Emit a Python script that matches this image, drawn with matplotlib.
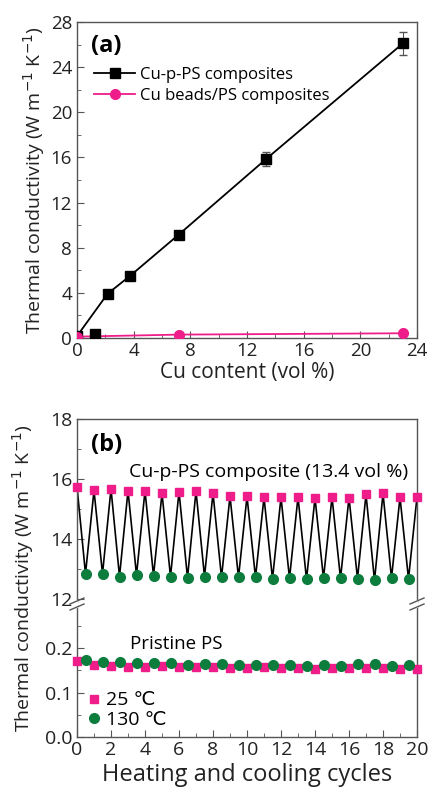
import numpy as np
import matplotlib
matplotlib.use("Agg")
import matplotlib.pyplot as plt
from matplotlib.ticker import MultipleLocator, FormatStrFormatter

plt.rcParams["font.family"] = ["Open Sans", "DejaVu Sans"]

PINK = "#EE1D8A"
GREEN = "#0C7D3C"
FRAME = "#555555"

# (a) thermal conductivity vs Cu content
cup_x = [0, 1.24, 2.16, 3.76, 7.17, 13.34, 23.0]
cup_y = [0.17, 0.35, 3.92, 5.52, 9.15, 15.85, 26.1]
cup_err = [0, 0, 0, 0, 0, 0.6, 1.05]
cup_line_x = [0, 2.16, 3.76, 7.17, 13.34, 23.0]
cup_line_y = [0.17, 3.92, 5.52, 9.15, 15.85, 26.1]
beads_x = [0, 7.17, 23.0]
beads_y = [0.12, 0.3, 0.42]

# (b) heating / cooling cycles
cyc_25 = np.arange(0, 21)
cyc_130 = np.arange(0.5, 20, 1.0)
comp_25 = [15.74, 15.62, 15.67, 15.61, 15.61, 15.52, 15.58, 15.60, 15.53, 15.43, 15.42,
           15.39, 15.39, 15.40, 15.37, 15.40, 15.38, 15.49, 15.52, 15.39, 15.40]
comp_130 = [12.84, 12.84, 12.75, 12.80, 12.78, 12.75, 12.71, 12.75, 12.72, 12.72,
            12.72, 12.67, 12.69, 12.66, 12.69, 12.69, 12.68, 12.62, 12.70, 12.67]
ps_25 = [0.171, 0.162, 0.159, 0.158, 0.158, 0.159, 0.158, 0.158, 0.158, 0.155, 0.155,
         0.158, 0.156, 0.155, 0.154, 0.155, 0.155, 0.155, 0.156, 0.154, 0.154]
ps_130 = [0.174, 0.169, 0.168, 0.167, 0.166, 0.166, 0.162, 0.164, 0.164, 0.162,
          0.163, 0.163, 0.162, 0.161, 0.162, 0.161, 0.165, 0.164, 0.161, 0.162]

W, H = 429, 794
fig = plt.figure(figsize=(W / 100, H / 100), dpi=100)


def px_axes(left, top, right, bottom):
    return fig.add_axes([left / W, 1 - bottom / H, (right - left) / W, (bottom - top) / H])


def style(ax):
    for s in ax.spines.values():
        s.set_color(FRAME)
        s.set_linewidth(1.0)
    ax.tick_params(which="both", direction="in", top=False, right=False, colors=FRAME,
                   labelcolor="#222222", labelsize=13.5)
    ax.tick_params(which="major", length=5)
    ax.tick_params(which="minor", length=3)
    ax.tick_params(axis="x", pad=3)


# ---- panel (a)
ax = px_axes(77, 22, 417, 338)
ax.plot(cup_line_x, cup_line_y, color="black", lw=1.3, zorder=2)
ax.errorbar(cup_x, cup_y, yerr=cup_err, fmt="none", ecolor="#555555", capsize=3, lw=0.8, zorder=2)
ax.plot(beads_x, beads_y, color=PINK, lw=1.3, zorder=3)
ax.plot(cup_x, cup_y, "s", color="black", ms=7, zorder=4)
ax.plot(beads_x, beads_y, "o", color=PINK, ms=7, zorder=4)
ax.plot([], [], "s-", color="black", ms=7, lw=1.3, label="Cu-p-PS composites")
ax.plot([], [], "o-", color=PINK, ms=7, lw=1.3, label="Cu beads/PS composites")
ax.set_xlim(0, 24)
ax.set_ylim(0, 28)
ax.xaxis.set_major_locator(MultipleLocator(4))
ax.xaxis.set_minor_locator(MultipleLocator(2))
ax.yaxis.set_major_locator(MultipleLocator(4))
ax.yaxis.set_minor_locator(MultipleLocator(2))
style(ax)
ax.set_xlabel("Cu content (vol %)", fontsize=15, color="#222222", labelpad=1)
ax.set_ylabel("Thermal conductivity (W m$^{-1}$ K$^{-1}$)", fontsize=14, color="#222222",
              labelpad=3)
ax.text(0.04, 0.925, "(a)", transform=ax.transAxes, fontsize=17, fontweight="bold",
        va="center", ha="left")
ax.legend(loc="upper left", bbox_to_anchor=(0.02, 0.89), frameon=False, fontsize=12,
          handlelength=2.5, handletextpad=0.3, labelspacing=0.3, borderaxespad=0.2)

# ---- panel (b): broken y axis
axu = px_axes(77, 419, 417, 602)
axl = px_axes(77, 606, 417, 737)

# zigzag line through alternating 25 / 130 C points
zig_x, zig_y = [], []
for i in range(len(cyc_25)):
    zig_x.append(cyc_25[i])
    zig_y.append(comp_25[i])
    if i < len(cyc_130):
        zig_x.append(cyc_130[i])
        zig_y.append(comp_130[i])
axu.plot(zig_x, zig_y, color="black", lw=1.2, zorder=2)
axu.plot(cyc_25, comp_25, "s", color=PINK, ms=6, zorder=3, clip_on=False)
axu.plot(cyc_130, comp_130, "o", color=GREEN, ms=7, zorder=3)
axu.set_ylim(11.9, 18)
axu.yaxis.set_major_locator(MultipleLocator(2))
axu.yaxis.set_minor_locator(MultipleLocator(1))

axl.plot(cyc_25, ps_25, "s", color=PINK, ms=6, zorder=3, clip_on=False, label="25 \u2103")
axl.plot(cyc_130, ps_130, "o", color=GREEN, ms=7, zorder=3, label="130 \u2103")
axl.set_ylim(0, 0.295)
axl.yaxis.set_major_locator(MultipleLocator(0.1))
axl.yaxis.set_minor_locator(MultipleLocator(0.05))
axl.yaxis.set_major_formatter(FormatStrFormatter("%.1f"))

for a in (axu, axl):
    a.set_xlim(0, 20)
    a.xaxis.set_major_locator(MultipleLocator(2))
    a.xaxis.set_minor_locator(MultipleLocator(1))
    style(a)
    a.tick_params(labelsize=14)
axu.spines["bottom"].set_visible(False)
axl.spines["top"].set_visible(False)
axu.tick_params(which="both", bottom=False, labelbottom=False)

# break marks on both spines
kw = dict(transform=fig.transFigure, color=FRAME, lw=1.0, clip_on=False)
for xc in (77, 417):
    fig.add_artist(plt.Line2D([xc / W, xc / W], [1 - 607 / H, 1 - 601 / H],
                              color="white", lw=1.6))
    for yc in (601, 607):
        fig.add_artist(plt.Line2D([(xc - 7) / W, (xc + 7) / W],
                                  [1 - (yc + 3) / H, 1 - (yc - 3) / H], **kw))

axl.set_xlabel("Heating and cooling cycles", fontsize=17, color="#222222", labelpad=3)
fig.text(23 / W, 1 - 578 / H, "Thermal conductivity (W m$^{-1}$ K$^{-1}$)", rotation=90,
         fontsize=14, color="#222222", ha="center", va="center")
axu.text(0.04, 0.86, "(b)", transform=axu.transAxes, fontsize=17, fontweight="bold",
         va="center", ha="left")
axu.text(0.975, 0.71, "Cu-p-PS composite (13.4 vol %)", transform=axu.transAxes,
         fontsize=14, ha="right", va="center")
axl.text(0.155, 0.71, "Pristine PS", transform=axl.transAxes, fontsize=13.5,
         ha="left", va="center")
axl.legend(loc="lower left", bbox_to_anchor=(0.0, -0.03), frameon=False, fontsize=14,
           handlelength=0.6, handletextpad=0.3, labelspacing=0.1, borderaxespad=0.2)

fig.savefig("out.png", dpi=100)
